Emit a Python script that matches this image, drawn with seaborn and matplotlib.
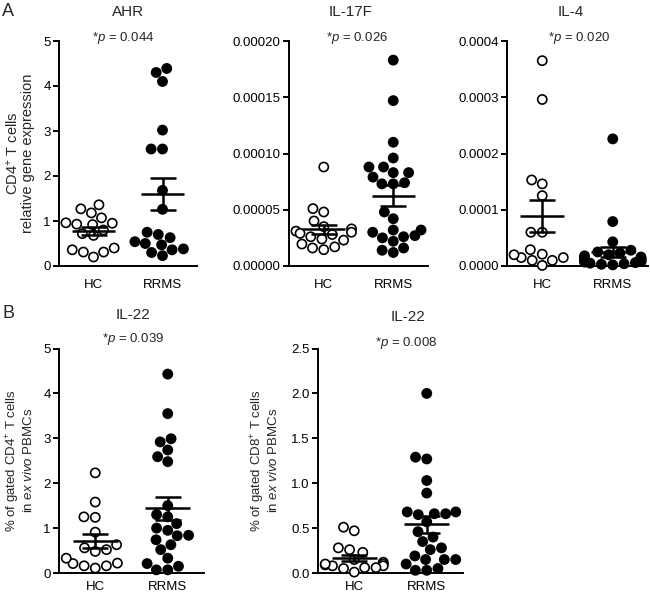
import numpy as np
import pandas as pd
import matplotlib
matplotlib.use("Agg")
import matplotlib.pyplot as plt
import seaborn as sns
import warnings
warnings.filterwarnings("ignore")

# ---------------- data ----------------
groups = ["HC", "RRMS"]

ahr_hc = [1.36, 1.27, 1.18, 1.07, 0.93, 0.92, 0.95, 0.96, 0.80, 0.72, 0.68, 0.40, 0.31, 0.20, 0.31, 0.36]
ahr_rrms = [4.39, 4.30, 4.10, 3.02, 2.60, 2.60, 1.68, 1.26, 0.70, 0.75, 0.63, 0.54, 0.47, 0.50, 0.38, 0.30, 0.36, 0.23]

il17f_hc = [8.8e-5, 5.1e-5, 4.8e-5, 4.0e-5, 3.5e-5, 3.3e-5, 3.1e-5, 3.0e-5, 2.9e-5, 2.8e-5,
            2.4e-5, 2.6e-5, 2.3e-5, 1.7e-5, 1.45e-5, 1.6e-5, 1.95e-5]
il17f_rrms = [18.3e-5, 14.7e-5, 11.0e-5, 9.6e-5, 8.8e-5, 8.8e-5, 8.3e-5, 8.3e-5, 7.9e-5, 7.4e-5,
              7.3e-5, 7.3e-5, 4.8e-5, 4.2e-5, 3.2e-5, 3.0e-5, 2.7e-5, 2.5e-5, 2.6e-5, 3.2e-5,
              2.2e-5, 1.6e-5, 1.2e-5, 1.4e-5]

il4_hc = [36.5e-5, 29.6e-5, 15.3e-5, 14.6e-5, 12.5e-5, 6.0e-5, 6.0e-5, 2.9e-5, 2.1e-5, 1.5e-5,
          1.0e-5, 0.1e-5, 1.0e-5, 1.5e-5, 2.0e-5]
il4_rrms = [22.6e-5, 7.9e-5, 4.3e-5, 2.8e-5, 2.5e-5, 2.3e-5, 2.0e-5, 1.8e-5, 1.6e-5, 1.5e-5,
            1.4e-5, 1.3e-5, 1.2e-5, 1.1e-5, 1.0e-5, 0.9e-5, 0.8e-5, 0.8e-5, 0.7e-5, 0.6e-5,
            0.5e-5, 0.4e-5, 0.3e-5, 0.2e-5]

il22cd4_hc = [2.23, 1.58, 1.25, 1.24, 0.91, 0.63, 0.52, 0.48, 0.56, 0.22, 0.16, 0.11, 0.16, 0.21, 0.33]
il22cd4_rrms = [4.43, 3.55, 2.99, 2.92, 2.74, 2.59, 2.48, 1.50, 1.30, 1.25, 1.10, 1.00, 0.95, 0.84,
                0.83, 0.74, 0.63, 0.52, 0.33, 0.21, 0.15, 0.07, 0.07]

il22cd8_hc = [0.47, 0.51, 0.28, 0.26, 0.23, 0.15, 0.12, 0.10, 0.09, 0.08, 0.10, 0.08, 0.06, 0.06, 0.01, 0.05]
il22cd8_rrms = [2.00, 1.29, 1.27, 1.03, 0.89, 0.68, 0.66, 0.66, 0.65, 0.68, 0.57, 0.46, 0.40, 0.35,
                0.28, 0.26, 0.19, 0.15, 0.15, 0.15, 0.10, 0.05, 0.03, 0.03]

titles = ["AHR", "IL-17F", "IL-4", "IL-22", "IL-22"]
p_values = ["0.044", "0.026", "0.020", "0.039", "0.008"]
ylabel_a = "CD4$^{+}$ T cells\nrelative gene expression"
ylabel_b1 = "% of gated CD4$^{+}$ T cells\nin $\\it{ex\\ vivo}$ PBMCs"
ylabel_b2 = "% of gated CD8$^{+}$ T cells\nin $\\it{ex\\ vivo}$ PBMCs"

# ---------------- style ----------------
sns.set_theme(style="ticks")
plt.rcParams["font.family"] = ["Liberation Sans", "DejaVu Sans"]
plt.rcParams["mathtext.fontset"] = "custom"
plt.rcParams["mathtext.rm"] = "Liberation Sans"
plt.rcParams["mathtext.it"] = "Liberation Sans:italic"
plt.rcParams["mathtext.bf"] = "Liberation Sans:bold"

W, H = 650, 595
fig = plt.figure(figsize=(W / 100, H / 100), dpi=100)


def make_ax(left, top, width, height):
    return fig.add_axes([left / W, 1 - (top + height) / H, width / W, height / H])


def panel(ax, hc, rrms, ymax, yticks, fmt, title, pval, title_x, title_y, p_x, p_y,
          ylabel=None, lab_x=None, xpad=9, lab_size=10.5):
    df = pd.DataFrame({"group": ["HC"] * len(hc) + ["RRMS"] * len(rrms),
                       "value": list(hc) + list(rrms)})
    sns.swarmplot(data=df, x="group", y="value", hue="group", order=groups,
                  palette={"HC": "white", "RRMS": "black"}, edgecolor="black",
                  linewidth=1.2, size=6.6, legend=False, ax=ax, zorder=3)
    for c in ax.collections:
        c.set_clip_on(False)
    for i, vals in enumerate([hc, rrms]):
        v = np.asarray(vals)
        m = v.mean()
        se = v.std(ddof=1) / np.sqrt(len(v))
        ax.errorbar(i, m, yerr=se, fmt="none", ecolor="black", elinewidth=1.8,
                    capsize=9.5, capthick=1.8, zorder=6)
        ax.hlines(m, i - 0.31, i + 0.31, colors="black", linewidth=1.8, zorder=6)
    ax.set_xlim(-0.5, 1.5)
    ax.set_ylim(0, ymax)
    ax.set_yticks(yticks)
    ax.set_yticklabels([fmt.format(t) for t in yticks])
    ax.set_xlabel("")
    ax.set_ylabel("")
    sns.despine(ax=ax)
    for s in ["left", "bottom"]:
        ax.spines[s].set_linewidth(1.4)
        ax.spines[s].set_color("black")
    ax.tick_params(axis="y", length=4, width=1.4, labelsize=9.5, pad=2, colors="black")
    ax.tick_params(axis="x", length=0, labelsize=9.5, pad=xpad, colors="black")
    ax.text(title_x, title_y, title, transform=ax.transAxes, ha="center", va="center", fontsize=11)
    ax.text(p_x, p_y, "*$\\it{p}$ = " + pval, transform=ax.transAxes, ha="center", va="center",
            fontsize=9.5)
    if ylabel is not None:
        ax.set_ylabel(ylabel, fontsize=lab_size, linespacing=1.0)
        ax.yaxis.set_label_coords(lab_x, 0.5)


ax1 = make_ax(59, 41, 138, 225)
panel(ax1, ahr_hc, ahr_rrms, 5, [0, 1, 2, 3, 4, 5], "{:.0f}", titles[0], p_values[0],
      0.5, 1.13, 0.465, 1.013, ylabel_a, -0.175)

ax2 = make_ax(289, 41, 139, 225)
panel(ax2, il17f_hc, il17f_rrms, 0.0002, [0, 0.00005, 0.0001, 0.00015, 0.0002], "{:.5f}",
      titles[1], p_values[1], 0.44, 1.13, 0.49, 1.013)

ax3 = make_ax(507, 41, 141, 225)
panel(ax3, il4_hc, il4_rrms, 0.0004, [0, 0.0001, 0.0002, 0.0003, 0.0004], "{:.4f}",
      titles[2], p_values[2], 0.45, 1.13, 0.51, 1.013)

ax4 = make_ax(59, 348.5, 145, 224.5)
panel(ax4, il22cd4_hc, il22cd4_rrms, 5, [0, 1, 2, 3, 4, 5], "{:.0f}", titles[3], p_values[3],
      0.51, 1.149, 0.51, 1.042, ylabel_b1, -0.165, xpad=6, lab_size=9.5)

ax5 = make_ax(318, 348.5, 145, 224.5)
panel(ax5, il22cd8_hc, il22cd8_rrms, 2.5, [0, 0.5, 1.0, 1.5, 2.0, 2.5], "{:.1f}", titles[4], p_values[4],
      0.62, 1.14, 0.61, 1.025, ylabel_b2, -0.26, xpad=6, lab_size=9.5)

fig.text(8 / W, 1 - 11 / H, "A", fontsize=13, ha="center", va="center")
fig.text(8 / W, 1 - 313 / H, "B", fontsize=13, ha="center", va="center")

fig.savefig("out.png", dpi=100, facecolor="white")
